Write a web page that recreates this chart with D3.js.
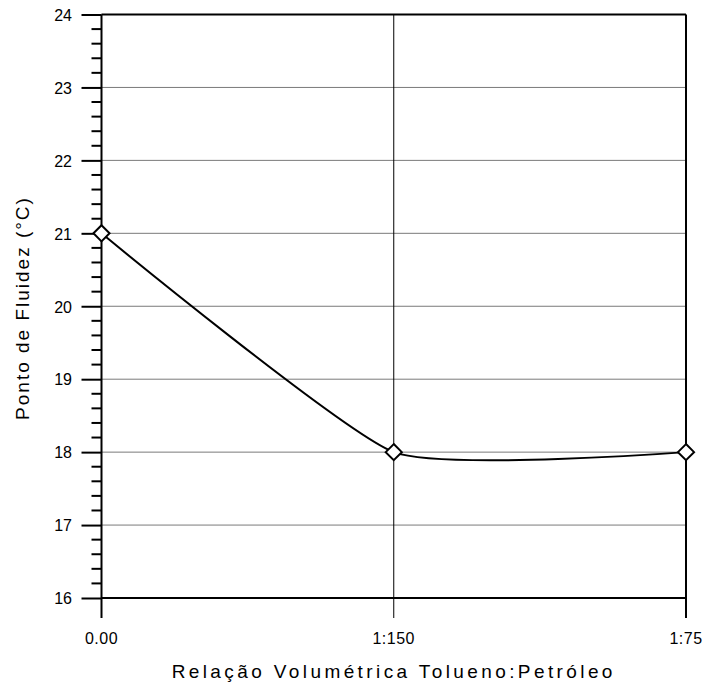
<!DOCTYPE html>
<html>
<head>
<meta charset="utf-8">
<script src="https://cdn.jsdelivr.net/npm/d3@7"></script>
<style>
  body { margin: 0; background: #fff; }
  text { font-family: Arial, "Liberation Sans", sans-serif; fill: #000; }
</style>
</head>
<body>
<svg id="canvas" width="706" height="688"></svg>
<script>
// values
let categories = ['0.00', '1:150', '1:75']
let pourPoint = [21, 18, 18]
let yTicks = [16, 17, 18, 19, 20, 21, 22, 23, 24]

let svg = d3.select('#canvas')

let plotLeft = 101.5, plotRight = 686, plotTop = 14.5, plotBottom = 598

let x = d3.scalePoint().domain(categories).range([plotLeft, plotRight])
let y = d3.scaleLinear().domain([16, 24]).range([plotBottom, plotTop])

// horizontal gridlines
svg.selectAll('.hgrid')
    .data(yTicks)
    .enter()
    .append('line')
    .attr('x1', plotLeft).attr('x2', plotRight)
    .attr('y1', d => y(d)).attr('y2', d => y(d))
    .attr('stroke', d => (d === 16 || d === 24) ? '#000' : '#7a7a7a')
    .attr('stroke-width', d => (d === 16 || d === 24) ? 2 : 1)

// vertical lines at each category, running a bit below the plot
svg.selectAll('.vgrid')
    .data(categories)
    .enter()
    .append('line')
    .attr('x1', d => x(d)).attr('x2', d => x(d))
    .attr('y1', plotTop).attr('y2', plotBottom + 20)
    .attr('stroke', '#000')
    .attr('stroke-width', (d, i) => i === 1 ? 1 : 2)

// left axis: major ticks + minor ticks
let yAxis = d3.axisLeft(y).tickValues(yTicks).tickSize(20).tickPadding(10).tickFormat(d3.format('d'))
let gy = svg.append('g')
    .attr('transform', `translate(${plotLeft},0)`)
    .call(yAxis)
    .attr('font-size', 16)
    .attr('font-family', 'Arial, "Liberation Sans", sans-serif')
gy.select('.domain').remove()
gy.selectAll('line').attr('stroke', '#000').attr('stroke-width', 2)
gy.selectAll('text').attr('x', -29.5).attr('dy', '0.36em')

let minor = d3.range(16, 24.001, 0.2).filter(v => Math.abs(v - Math.round(v)) > 0.01)
svg.append('g').selectAll('line')
    .data(minor)
    .enter()
    .append('line')
    .attr('x1', plotLeft - 10).attr('x2', plotLeft)
    .attr('y1', d => y(d)).attr('y2', d => y(d))
    .attr('stroke', '#000').attr('stroke-width', 2)

// x tick labels
svg.append('g').selectAll('text')
    .data(categories)
    .enter()
    .append('text')
    .attr('x', d => x(d))
    .attr('y', 644)
    .attr('text-anchor', 'middle')
    .style('font-size', '16px')
    .style('letter-spacing', '0.5px')
    .text(d => d)

// curve
let line = d3.line()
    .x((d, i) => x(categories[i]))
    .y(d => y(d))
    .curve(d3.curveCardinal.tension(0.5))

svg.append('path')
    .datum(pourPoint)
    .attr('d', line)
    .attr('fill', 'none')
    .attr('stroke', '#000')
    .attr('stroke-width', 2)

// diamond markers
svg.selectAll('.marker')
    .data(pourPoint)
    .enter()
    .append('path')
    .attr('d', d3.symbol().type(d3.symbolDiamond2).size(165))
    .attr('transform', (d, i) => `translate(${x(categories[i])},${y(d)})`)
    .attr('fill', '#fff')
    .attr('stroke', '#000')
    .attr('stroke-width', 2)

// axis titles
svg.append('text')
    .attr('x', (plotLeft + plotRight) / 2)
    .attr('y', 678)
    .attr('text-anchor', 'middle')
    .style('font-size', '19px')
    .style('letter-spacing', '3.4px')
    .text('Relação Volumétrica Tolueno:Petróleo')

svg.append('text')
    .attr('transform', `translate(29,308) rotate(-90)`)
    .attr('text-anchor', 'middle')
    .style('font-size', '19px')
    .style('letter-spacing', '2px')
    .text('Ponto de Fluidez (°C)')
</script>
</body>
</html>
